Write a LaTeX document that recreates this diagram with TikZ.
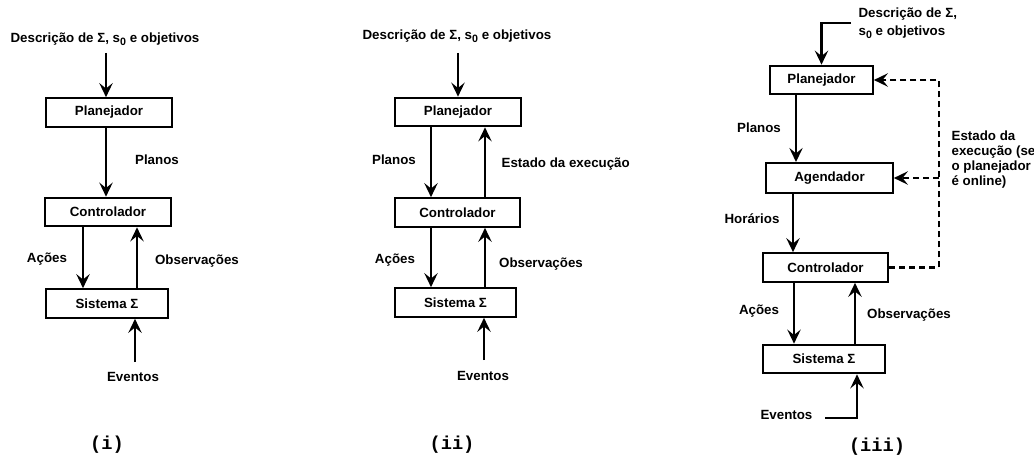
\documentclass[tikz,border=0pt]{standalone}
\usepackage{fontspec}
\setmainfont{Liberation Sans}
\newfontfamily\capfont{Liberation Mono}
\usetikzlibrary{arrows.meta,calc}
% subscript zero of the initial state
\newcommand{\sinit}{s\raisebox{-2.2pt}{\fontsize{8}{8}\selectfont 0}}
\begin{document}
\begin{tikzpicture}[x=0.75pt,y=-0.75pt,
  font=\fontsize{10}{11.5}\selectfont\bfseries,
  blk/.style={draw,line width=1.5pt,inner sep=0pt,minimum height=21.5pt},
  lbl/.style={inner sep=1pt},
  arr/.style={line width=1.6pt,-{Stealth[length=10.5pt,width=10pt,inset=4pt]}},
  dsh/.style={arr,dash pattern=on 4.5pt off 3pt},
  partlabel/.style={font=\capfont\fontsize{14}{16}\selectfont\bfseries}]
\useasboundingbox (0,0) rectangle (1034,459);

% ---------- (i) ----------
\node[lbl] (desc1) at (105,39) {Descrição de Σ, \sinit{} e objetivos};
\node[blk,minimum width=94.5pt] (plan1) at (109,112.5) {Planejador};
\node[blk,minimum width=94.5pt] (ctl1) at (108,212) {Controlador};
\node[blk,minimum width=91.5pt] (sys1) at (107,303.5) {Sistema Σ};
\node[lbl] (pl1) at (157,160) {Planos};
\node[lbl] (ac1) at (47,259) {Ações};
\node[lbl] (ob1) at (197,261) {Observações};
\node[lbl] (ev1) at (133,377) {Eventos};
\node[partlabel] (c1) at (107,445) {(i)};
\coordinate (i1) at (106,53);
\coordinate (ia) at (83,0);
\coordinate (io) at (137,0);
\coordinate (ie) at (135,362);
\draw[arr] (i1) -- (i1 |- plan1.north);
\draw[arr] (plan1.south -| i1) -- (i1 |- ctl1.north);
\draw[arr] (ia |- ctl1.south) -- (ia |- sys1.north);
\draw[arr] (io |- sys1.north) -- (io |- ctl1.south);
\draw[arr] (ie) -- (ie |- sys1.south);

% ---------- (ii) ----------
\node[lbl] (desc2) at (457,36) {Descrição de Σ, \sinit{} e objetivos};
\node[blk,minimum width=94.5pt] (plan2) at (458,112) {Planejador};
\node[blk,minimum width=94pt] (ctl2) at (457.5,212.5) {Controlador};
\node[blk,minimum width=91pt] (sys2) at (455.5,302.5) {Sistema Σ};
\node[lbl] (pl2) at (394,160) {Planos};
\node[lbl,anchor=west] (es2) at (500,164) {Estado da execução};
\node[lbl] (ac2) at (395,260) {Ações};
\node[lbl] (ob2) at (541,264) {Observações};
\node[lbl] (ev2) at (483,376) {Eventos};
\node[partlabel] (c2) at (452,445) {(ii)};
\coordinate (j1) at (458,53);
\coordinate (ja) at (431,0);
\coordinate (jo) at (485,0);
\coordinate (je) at (484,360);
\draw[arr] (j1) -- (j1 |- plan2.north);
\draw[arr] (ja |- plan2.south) -- (ja |- ctl2.north);
\draw[arr] (jo |- ctl2.north) -- (jo |- plan2.south);
\draw[arr] (ja |- ctl2.south) -- (ja |- sys2.north);
\draw[arr] (jo |- sys2.north) -- (jo |- ctl2.south);
\draw[arr] (je) -- (je |- sys2.south);

% ---------- (iii) ----------
\node[lbl,anchor=west,align=left,font=\fontsize{10}{13.5}\selectfont\bfseries]
  (desc3) at (857,23) {Descrição de Σ,\\\sinit{} e objetivos};
\node[blk,minimum width=77pt] (plan3) at (821.5,80) {Planejador};
\node[blk,minimum width=95pt,minimum height=22.5pt] (agd3) at (829.5,178) {Agendador};
\node[blk,minimum width=94pt] (ctl3) at (825.5,267.5) {Controlador};
\node[blk,minimum width=91.5pt] (sys3) at (824,359) {Sistema Σ};
\node[lbl] (pl3) at (759,128) {Planos};
\node[lbl] (ho3) at (752,219) {Horários};
\node[lbl] (ac3) at (759,311) {Ações};
\node[lbl] (ob3) at (909,315) {Observações};
\node[lbl,anchor=east] (ev3) at (814,415) {Eventos};
\node[lbl,anchor=west,align=left,font=\fontsize{10}{11.25}\selectfont\bfseries]
  (es3) at (950,159.5) {Estado da\\execução (se\\o planejador\\é online)};
\node[partlabel] (c3) at (877,447) {(iii)};
\coordinate (ka) at (796,0);
\coordinate (kh) at (793,0);
\coordinate (kc) at (794,0);
\coordinate (ko) at (855,0);
\coordinate (kd) at (939,0);
\coordinate (ke) at (825,418);
\coordinate (kf) at (857,418);
\draw[arr] ([xshift=-4.5pt]desc3.west) -| (plan3.north);
\draw[arr] (ka |- plan3.south) -- (ka |- agd3.north);
\draw[arr] (kh |- agd3.south) -- (kh |- ctl3.north);
\draw[arr] (kc |- ctl3.south) -- (kc |- sys3.north);
\draw[arr] (ko |- sys3.north) -- (ko |- ctl3.south);
\draw[arr] (ke) -- (kf) -- (kf |- sys3.south);
\draw[dsh] (ctl3.east) -| (kd |- plan3.east) -- (plan3.east);
\draw[dsh] (kd |- agd3.east) -- (agd3.east);
\end{tikzpicture}
\end{document}
